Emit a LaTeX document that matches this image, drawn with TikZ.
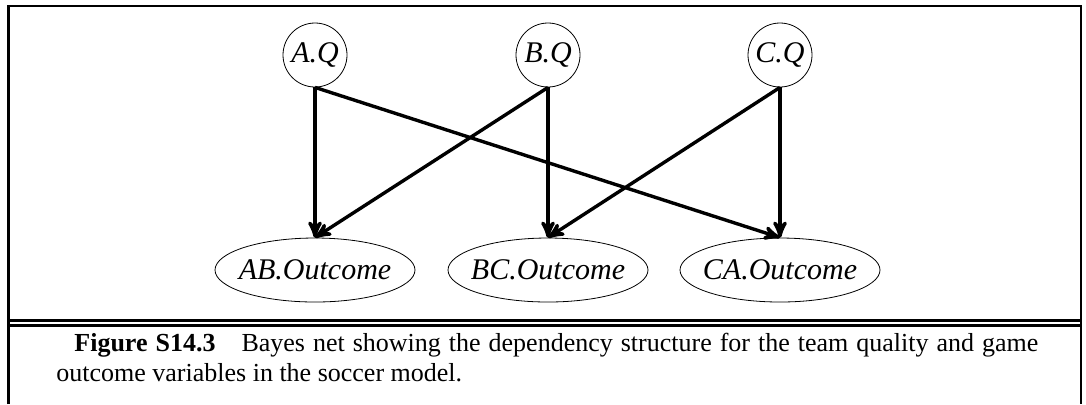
\documentclass[tikz,border=0pt]{standalone}
\usepackage{fontspec}
\setmainfont{Liberation Serif}
\usepackage{tikz}
\usetikzlibrary{arrows,shapes}
\tikzstyle{quality}=[circle,draw=black,thin,inner sep=0pt,minimum size=32pt,font=\fontsize{15}{17}\selectfont\itshape]
\tikzstyle{outcome}=[ellipse,draw=black,thin,inner xsep=-4pt,inner ysep=0pt,minimum width=100pt,minimum height=32pt,font=\fontsize{15}{17}\selectfont\itshape]
\tikzstyle{dep}=[-stealth',line width=1.7pt]
\tikzstyle{frame}=[line width=1.3pt]

\begin{document}
\begin{tikzpicture}[x=0.5pt,y=-0.5pt]
        \useasboundingbox (0,0) rectangle (1086,404);

        \node at (315,55)  [quality] (aq) {A.Q};
        \node at (548,55)  [quality] (bq) {B.Q};
        \node at (780,55)  [quality] (cq) {C.Q};
        \node at (315,270) [outcome] (ab) {AB.Outcome};
        \node at (548,270) [outcome] (bc) {BC.Outcome};
        \node at (780,270) [outcome] (ca) {CA.Outcome};

        \draw [dep] (aq.south) -- (ab.north);
        \draw [dep] (aq.south) -- (ca.north);
        \draw [dep] (bq.south) -- (ab.north);
        \draw [dep] (bq.south) -- (bc.north);
        \draw [dep] (cq.south) -- (bc.north);
        \draw [dep] (cq.south) -- (ca.north);

        % frame and caption
        \draw [frame] (8.5,404) -- (8.5,6) -- (1081,6) -- (1081,404);
        \draw [frame] (8.5,320.5) -- (1081,320.5);
        \draw [frame] (8.5,325.5) -- (1081,325.5);

        \node at (56,333) [anchor=north west,inner sep=0pt,text width=491pt,align=justify,
          font=\fontsize{13}{15}\selectfont] (cap)
          {\hspace*{9pt}\textbf{Figure S14.3}\hspace{1em}Bayes net showing the dependency structure for the team quality and game\linebreak
           outcome variables in the soccer model.};
      \end{tikzpicture}
\end{document}
